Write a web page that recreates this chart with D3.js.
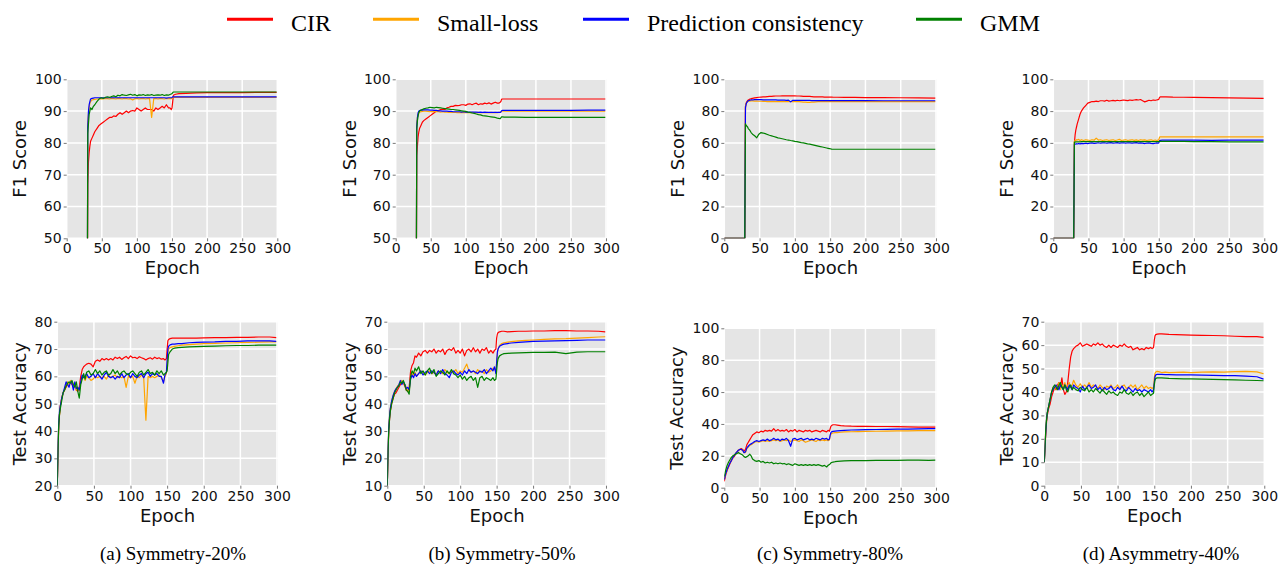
<!DOCTYPE html>
<html>
<head>
<meta charset="utf-8">
<script src="https://cdn.jsdelivr.net/npm/d3@7"></script>
<style>
  body { margin: 0; background: #fff; }
  svg { display: block; }
</style>
</head>
<body>
<div id="chart"></div>
<script>
// legend / methods
const methods = ["CIR", "Small-loss", "Prediction consistency", "GMM"];
const colors = ["#ff0000", "#ffa500", "#0000ff", "#008000"];
const captions = ["(a) Symmetry-20%", "(b) Symmetry-50%", "(c) Symmetry-80%", "(d) Asymmetry-40%"];

// epochs sampled for the F1 row and the accuracy row
const epochsF1 = [0,29,30,31,32,33,34,36,38,40,
  43,46,49,52,55,58,61,64,67,70,
  73,76,79,82,85,88,91,94,97,100,
  103,106,109,112,115,118,121,124,127,130,
  133,136,139,142,145,147,149,150,151,152,
  155,160,170,185,200,225,250,275,299];
const epochsAcc = [0,1,2,3,4,6,8,10,12,14,
  16,18,20,22,24,26,28,30,32,34,
  36,38,40,43,46,49,52,55,58,61,
  64,67,70,73,76,79,82,85,88,91,
  94,97,100,103,106,109,112,115,118,121,
  124,127,130,133,136,139,142,145,147,149,
  150,151,152,154,157,160,165,170,180,190,
  200,215,230,245,260,275,290,299];

const xTicks = [0, 50, 100, 150, 200, 250, 300];

// ---- (a) Symmetry-20% ----
const aF1Cir = [0,0,67,74,77,79,80.5,81.5,82.5,83.5,
  84.5,85.5,86,86.5,87,87.5,88,88,88.5,88.3,
  89,89.5,89,89.5,90,89.5,90,90.2,90,91,
  90.5,90,90.5,91,90.5,90.5,90.5,90,91,90.5,
  91,91.5,91,92,91,91,90.5,91,93,95,
  95.3,95.5,95.6,95.7,95.8,95.8,95.8,95.9,95.9];
const aF1Sl = [0,0,86,89,91,92.5,93,93.5,93.6,93.7,
  93.8,93.8,93.9,93.8,94,93.9,93.8,94,93.9,93.8,
  94,93.9,93.8,94,93.9,93.8,93.9,93.5,93.9,94,
  93.8,93.9,94,93.8,93.9,94,88,93.9,94,93.8,
  94,93.9,93.8,94,93.9,94,93.9,94,94.2,94.3,
  94.3,94.3,94.3,94.3,94.3,94.3,94.3,94.3,94.3];
const aF1Pc = [0,0,85,90,92,93,93.8,94,94.1,94.2,
  94.2,94.2,94.2,94.2,94.2,94.2,94.2,94.2,94.2,94.2,
  94.2,94.2,94.2,94.2,94.2,94.2,94.2,94.2,94.2,94.2,
  94.2,94.2,94.2,94.2,94.2,94.2,94.2,94.2,94.2,94.2,
  94.2,94.2,94.2,94.1,94.2,94.2,94.2,94.3,94.5,94.5,
  94.5,94.5,94.5,94.5,94.5,94.5,94.5,94.5,94.5];
const aF1Gmm = [0,0,83,86,89,90,91,90.5,91.5,92,
  93,93.8,94.2,94,94.3,94.5,94.3,94.6,94.8,94.5,
  95,94.8,95.2,95,94.9,95.1,95.3,95,95.2,94.8,
  95.1,95,95.2,94.9,95.1,95,95.2,94.9,95,95.1,
  95,95.2,94.9,95.1,95,95.2,95.4,95.5,95.8,96,
  96,96,96,96,96,96,96,96,96];

const aAccCir = [20,33,42,46,49,52,54,55,56,57,
  57.5,58,57,56.5,57.5,55,54.5,56,60,62.5,
  63.5,64,64.5,64.8,64.5,63.5,65.5,66,65.5,66.5,
  66,66.5,66,66.5,66,67,66.5,67,66.2,66.8,
  67.3,66.5,67.5,66.8,67,66.5,67.2,66.8,66.5,66,
  66.5,66.8,66.3,67,66.5,66.8,66.3,66.5,66,66.5,
  70,73,73.5,73.8,74,74,74,74,74,74,
  74.1,74.2,74.2,74.3,74.3,74.4,74.4,74.2];
const aAccSl = [20,35,43,46,49,52,54,55.5,57,58,
  57,58.5,58,56,57,55,56,55,58,59.5,
  60,58.5,60,59.5,58.5,59,60,59.5,60,59.5,
  60,59,60.5,59.5,60,60.5,59.5,60,59.5,60,
  56,60,59.5,60,57.5,60,59.5,60.5,59.5,44,
  60,59.5,60,59.5,60,60.5,59.5,58,60,61,
  64,68.5,70,70.5,70.8,71,71.2,71.4,71.6,71.8,
  72,72.1,72.2,72.3,72.4,72.5,72.6,72.6];
const aAccPc = [20,36,43,47,49,52,54,56,58,57,
  56,58,57.5,55,58,55.5,56,55,58,60.5,
  59.5,60,61,59.5,60,61,59.5,61,60,59,
  60.5,61.5,60,59.5,60,59,60,59.5,61,59.5,
  60.5,61,59.5,61,60,59.5,60.5,61,59.5,61,
  61.5,60,61,60.5,61,60,60,57.5,60.5,61.5,
  66,70,71,71.5,71.8,71.8,72,72,72.3,72.4,
  72.5,72.6,72.8,72.8,73,73,73,72.8];
const aAccGmm = [20,34,42,46,48,51,54,55,56.5,57.5,
  58,57.5,58.5,57,56,58,54.5,52,57,59,
  61,59,61.5,62,60.5,61,62.5,61,62,60.5,
  61.5,62,60.5,61,62.5,61,62,60.5,61.5,62,
  61,60.5,61.5,62,61,60,61.5,62,60.5,61.5,
  62.5,61,61.5,60.5,62,61,62,60.5,61,61.5,
  62,65,68,69,70,70.3,70.5,70.6,70.8,70.9,
  71,71.1,71.2,71.3,71.3,71.4,71.4,71.4];

// ---- (b) Symmetry-50% ----
const bF1Cir = [0,0,76,79,82,83.5,84.5,85.5,86.5,87,
  87.5,88,88.5,89,89.5,90,90.2,90.5,90.6,90.5,
  91,91.2,91.5,91.5,91.8,91.7,91.8,92,92,91.8,
  92.2,92.3,92,92.3,92.5,92,92.3,92.2,92.5,92.3,
  92.6,92.2,92.5,92.8,92.5,92.5,92.8,93,93.7,93.8,
  93.8,93.8,93.8,93.8,93.8,93.8,93.8,93.8,93.8];
const bF1Sl = [0,0,86,88,89,89.5,89.7,89.8,89.9,90,
  90,89.9,89.8,89.9,89.8,89.9,89.8,89.7,89.8,89.7,
  89.7,89.6,89.7,89.6,89.6,89.5,89.6,89.5,89.6,89.5,
  89.5,89.5,89.6,89.5,89.5,89.6,89.5,89.5,89.5,89.6,
  89.5,89.6,89.5,89.6,89.5,89.6,89.6,89.7,90,90,
  90,90,90,90,90,90,90,90,90];
const bF1Pc = [0,0,85,88,89.5,90,90.2,90.3,90.3,90.4,
  90.4,90.4,90.3,90.3,90.2,90.2,90.1,90.1,90,90,
  90,89.9,89.9,89.8,89.8,89.8,89.8,89.7,89.8,89.7,
  89.7,89.7,89.7,89.7,89.7,89.6,89.7,89.6,89.7,89.6,
  89.6,89.6,89.6,89.6,89.6,89.6,89.6,89.7,90.1,90.2,
  90.2,90.2,90.2,90.2,90.2,90.2,90.2,90.3,90.3];
const bF1Gmm = [0,0,84,87,88.5,89.5,90,90.3,90.5,90.7,
  90.9,91,91.2,91.1,91,91.2,91.1,91,90.9,90.8,
  90.7,90.6,90.5,90.5,90.4,90.3,90.2,90.1,90,89.9,
  89.7,89.6,89.4,89.3,89.1,88.9,88.8,88.6,88.5,88.4,
  88.3,88.2,88.1,88,87.8,87.7,87.6,87.9,88.2,88.2,
  88.1,88.1,88.1,88,88,88,88,88,88];

const bAccCir = [10,22,30,34,37,40,42,43.5,44,45,
  46,47,48,47.5,46.5,45,44.5,46,52,54,
  55,57.5,57,58.5,57.5,59,59.5,58.5,59.5,59,
  60,58.5,59.5,59,60,58,59.5,60,59.5,60.5,
  58.5,59.5,58.5,60,57.5,59.5,60,59,60.5,59,
  60,58.5,60,59.5,60.5,58.5,59.5,58.5,59.5,60,
  64,65.5,66,66.3,66.5,66.5,66.3,66.4,66.5,66.5,
  66.6,66.6,66.7,66.7,66.6,66.6,66.5,66.3];
const bAccSl = [10,23,31,35,38,41,43,44.5,45.5,46.5,
  47,48,48.5,47.5,47,46,45,44.5,49.5,51,
  50.5,51.5,50,51,52,51.5,50.5,51.5,52,51,
  51.5,50.5,52,51.5,51,52.5,51.5,51,52,51.5,
  52.5,51,52,51.5,53,54.5,52,51.5,52,51,
  52.5,51.5,52,51,52.5,51.5,52,53,52.5,52,
  55,58.5,60,61.3,62,62.3,62.5,62.7,63,63.2,
  63.3,63.5,63.7,63.8,64,64.2,64.4,64.5];
const bAccPc = [10,24,31,35,38,41,43,44.5,45.5,46,
  47,48.5,47,48,47,45.5,46,45,49,50.5,
  49.5,51,50,51,52,50.5,51.5,52,51,52,
  51.5,50.5,52,51,52.5,51,50.5,49.5,51.5,52,
  51,50.5,51.5,50.5,52,51,52.5,51.5,52,51.5,
  51,52,51.5,52.5,51,52,53,52,53.5,51,
  55,59,60,61,61.5,61.8,62,62.2,62.4,62.6,
  62.8,62.9,63,63.1,63.2,63.3,63.3,63.3];
const bAccGmm = [10,23,30,34,37,40,42,44,45,46,
  46.5,48,47.5,48.5,47,45,44.5,43.5,50,52,
  51,53,52,53.5,51,52,50.5,52,53,51,
  52.5,50,51,52,51.5,50.5,52,51,52.5,51,
  50.5,49.5,50.5,49,50,48.5,49.5,50,48.5,49.5,
  46,49.5,50,48.5,49.5,49,48.5,49.5,48.5,49,
  52,55,56.5,57.5,58,58.3,58.4,58.5,58.6,58.7,
  58.8,58.8,58.9,58.3,58.9,59,59,59];

// ---- (c) Symmetry-80% ----
const cF1Cir = [0,0,83,85,86,86.5,87,87.5,87.8,88,
  88.3,88.5,88.7,88.8,88.9,89,89.1,89.2,89.3,89.4,
  89.5,89.5,89.5,89.6,89.6,89.6,89.6,89.6,89.6,89.6,
  89.5,89.5,89.4,89.3,89.3,89.2,89.2,89.1,89,89,
  89,88.9,88.9,88.8,88.8,88.8,88.8,88.8,88.8,88.8,
  88.7,88.7,88.6,88.6,88.5,88.5,88.4,88.3,88.2];
const cF1Sl = [0,0,83,85,85.5,86,86.2,86.3,86.4,86.4,
  86.3,86.3,86.2,86.2,86.1,86.1,86,86,86,86,
  86,86,86,86,86,86,86,86,86,86,
  86,85.9,85.8,85.7,85.6,85.5,85.5,85.6,85.7,85.8,
  85.9,86,86,86,86,86,86,86,86,86,
  86,86,86,86,86,86,86,86,86];
const cF1Pc = [0,0,82,84.5,85.5,86,86.5,86.8,87,87,
  87.2,87.2,87.2,87.2,87.1,87.1,87.1,87,87,87,
  87,86.9,86.9,86.9,86.9,86.8,86.9,85.8,86.8,86.8,
  86.8,86.7,86.7,86.7,86.7,86.7,86.7,86.6,86.6,86.6,
  86.6,86.6,86.6,86.6,86.6,86.6,86.6,86.6,86.6,86.6,
  86.6,86.6,86.6,86.6,86.6,86.5,86.5,86.5,86.5];
const cF1Gmm = [0,0,72,71,70.5,70,69,68,66.5,65.5,
  64.5,63.2,65.5,66.5,66.2,65.8,65.3,64.8,64.4,64,
  63.6,63.2,62.9,62.6,62.3,62,61.8,61.5,61.3,61,
  60.8,60.5,60.2,60,59.7,59.4,59.2,58.9,58.6,58.3,
  58,57.7,57.4,57.1,56.8,56.6,56.4,56.3,56.2,56.1,
  56,56,56,56,56,56,56,56,56];

const cAccCir = [4,6,8,9.5,11,13,15,17,18.5,19.5,
  21,22.5,23.5,24,24.5,24,23,24,27,28.5,
  30,31.5,33,34,35,34.5,35.5,35,36,35.5,
  36,35.5,37,35.5,36.5,35.5,36,35.5,36.5,35,
  36,35.5,36.5,35,36,35.5,35,36,35.5,36,
  35,35.5,36,35.5,35,36,35.5,35,36,35.5,
  37,38.5,39,39.5,39.5,39.3,39,38.8,38.6,38.5,
  38.5,38.4,38.4,38.3,38.2,38,38,38];
const cAccSl = [5,7,9,10,11.5,13.5,15.5,17,19,20,
  21.5,22.5,23.5,24,24,23.5,22,22,24.5,25.5,
  26.5,27,27.5,28.5,29,28.5,29,29.5,29,29.5,
  29,29.5,30,29.5,30,29,29.5,30,29.5,30,
  29,29.5,30,29.5,29,30,29.5,28.5,29,29.5,
  30,29.5,29,30,29.5,30,29.5,30,29.5,30,
  32,33.5,34,34.3,34.5,34.6,34.8,35,35.1,35.2,
  35.3,35.4,35.5,35.6,35.7,35.8,35.8,35.8];
const cAccPc = [5,7,9,10,11.5,13.5,15.5,17,19,20,
  21.5,22.5,23.5,24,24,23.5,22,22.5,25,26,
  27,27.5,28,29,29.5,29,29.5,30,29.5,30.5,
  29.5,30,31,30,30.5,29.5,30.5,30,31,29.5,
  26,30.5,31,30,30.5,31,30,30.5,31,30,
  30.5,30,31,30.5,30,31,30.5,31,30,30.5,
  33,34.5,35,35.3,35.5,35.6,35.8,36,36.2,36.3,
  36.4,36.5,36.6,36.7,36.8,36.9,37,37];
const cAccGmm = [7,9,11,12.5,14,16,17.5,19,20,20.5,
  21,21.5,22,21.5,21,20.5,19.5,19,19.5,20,
  21,20,18,17,16.5,17,16,16.5,15.5,16,
  15.5,16,15,15.5,15,15.5,15,15.2,14.5,15,
  14.5,14,15,14.5,14,14.5,14,14.5,14,14.5,
  14,14.5,14,14.5,14,13.5,14,13,14,14.5,
  15,15.5,15.8,16,16.3,16.5,16.7,16.8,17,17,
  17,17.2,17.2,17.2,17.3,17.3,17.2,17.3];

// ---- (d) Asymmetry-40% ----
const dF1Cir = [0,0,60,65,68,70,72,75,78,80,
  82,83.5,85,85.5,86,86,86.3,86,86.5,86.5,
  86.3,86.8,86.3,86.5,86.7,86.4,86.8,86.5,86.7,87,
  86.8,86.6,87,86.8,87,87.2,87,87.3,86.5,85.8,
  86.3,86.8,86.5,87,86.8,87,87.2,87.5,88.5,89,
  89,89,88.8,88.7,88.6,88.5,88.3,88.1,88];
const dF1Sl = [0,0,61,61.5,61.5,62,61.8,62.2,61.5,62,
  61.5,62,61.8,61.5,62,61.7,63,61.8,62,61.5,
  61.8,62,61.5,61.8,62,61.5,61.8,62.2,61.5,61.8,
  62,61.5,61.8,62,61.6,61.9,61.5,62,61.7,61.9,
  61.5,61.8,62,61.5,61.8,61.5,61.7,62,63.5,63.8,
  63.8,63.8,63.8,63.8,63.8,63.8,63.8,63.8,63.8];
const dF1Pc = [0,0,59,59.2,59.3,59.5,59.3,59.6,59.4,59.7,
  59.5,59.8,59.6,59.8,60,59.7,59.9,60.1,59.8,60,
  60.1,59.8,60,60.2,59.9,60,60.2,59.9,60,60.1,
  59.9,60.1,60,59.8,60,60.2,59.9,60,59.8,59.6,
  59.9,60,59.7,59.5,59.8,60,59.9,60,61.3,61.6,
  61.7,61.8,61.8,61.7,61.7,61.6,61.7,61.7,61.8];
const dF1Gmm = [0,0,60.5,60.5,60.6,60.6,60.7,60.6,60.7,60.8,
  60.8,60.8,60.8,60.8,60.8,60.8,60.8,60.8,60.8,60.8,
  60.8,60.8,60.8,60.8,60.8,60.8,60.8,60.8,60.8,60.8,
  60.8,60.8,60.8,60.8,60.8,60.8,60.8,60.8,60.8,60.8,
  60.8,60.8,60.8,60.8,60.8,60.8,60.8,60.8,61,61,
  61,61,60.9,60.9,60.8,60.8,60.7,60.7,60.7];

const dAccCir = [10,16,22,27,30,33,35,38,40,42,
  41,43,44,42,46,41,39,40,44,50,
  55,57.5,58.5,59.5,60,61,59.5,60,60.5,60,
  59.5,60.5,60,61,60,60.5,59.5,59,60,59,
  60,59.5,59,60,59.5,60.5,59.5,59,59.5,58,
  58.5,59,58,58.5,58,59,58.5,59,58.5,59,
  62,64,64.5,64.7,64.8,64.8,64.7,64.6,64.5,64.4,
  64.3,64.2,64.1,64,63.8,63.6,63.6,63.3];
const dAccSl = [10,18,24,28,31,34,37,40,42,41,
  43,42,44,41,43,42,44,42,43,44,
  42,43,45,43,42,43.5,42,43,42,44,
  42,43,42.5,41.5,43,42,41,42.5,42,43,
  41.5,42,43,41.5,42.5,43,41.5,42,43,42,
  43,41,42,43,41.5,42.5,41.5,42,41.5,42,
  46,48,48.5,48.8,48.6,48.3,48.5,48.3,48.4,48.5,
  48.3,48.5,48.6,48.5,48.7,48.8,48.6,47.8];
const dAccPc = [10,17,23,28,31,34,37,40,41,42,
  43,42,41,43,42,41,43,42,41,43,
  42,41,43,42,41.5,40,42.5,41,42,43,
  41.5,42,43,41,42,40.5,42,41,41.5,42.5,
  41,40.5,42,41,42.5,41,40.5,42,41,40,
  41.5,40.5,41,40,41,40.5,40,41,40,41,
  44,46.5,47.3,47.5,47.5,47.5,47.4,47.4,47.3,47.3,
  47.3,47.2,47.1,47,47,46.8,46.5,45.5];
const dAccGmm = [10,17,24,28,31,34,37,40,42,43,
  42,41,43,44,42,41,43,41,40,42,
  43,41,42,41,40.5,42,41,40.5,42,40,
  41,40,41.5,40.5,39.5,41,40,39,40.5,39.5,
  40,39,38.5,40,39.5,41,39.5,39,40,38.5,
  39.5,40,38.5,39.5,38,39,40,38.5,39,39.5,
  43,45,45.8,46,46,46,45.9,45.8,45.7,45.6,
  45.6,45.5,45.4,45.3,45.2,45,44.9,44.8];

// y tick labels per panel
const yTicksF1High = [50, 60, 70, 80, 90, 100];
const yTicksF1Full = [0, 20, 40, 60, 80, 100];
const yTicksAccA = [20, 30, 40, 50, 60, 70, 80];
const yTicksAccB = [10, 20, 30, 40, 50, 60, 70];
const yTicksAccC = [0, 20, 40, 60, 80, 100];
const yTicksAccD = [0, 10, 20, 30, 40, 50, 60, 70];

const panels = [
  {label: "F1 Score", epochs: epochsF1, series: [aF1Cir, aF1Sl, aF1Pc, aF1Gmm], ticks: yTicksF1High,
   box: {left: 66.7, right: 278, top: 79.3, bottom: 238.3, labelX: 20}},
  {label: "F1 Score", epochs: epochsF1, series: [bF1Cir, bF1Sl, bF1Pc, bF1Gmm], ticks: yTicksF1High,
   box: {left: 395.7, right: 606.7, top: 79.3, bottom: 238.3, labelX: 350}},
  {label: "F1 Score", epochs: epochsF1, series: [cF1Cir, cF1Sl, cF1Pc, cF1Gmm], ticks: yTicksF1Full,
   box: {left: 724.3, right: 936.7, top: 79.3, bottom: 238.3, labelX: 678}},
  {label: "F1 Score", epochs: epochsF1, series: [dF1Cir, dF1Sl, dF1Pc, dF1Gmm], ticks: yTicksF1Full,
   box: {left: 1053.3, right: 1265, top: 79.3, bottom: 238.3, labelX: 1007}},
  {label: "Test Accuracy", epochs: epochsAcc, series: [aAccCir, aAccSl, aAccPc, aAccGmm], ticks: yTicksAccA,
   box: {left: 57.3, right: 277.7, top: 321.7, bottom: 485.7, labelX: 20}},
  {label: "Test Accuracy", epochs: epochsAcc, series: [bAccCir, bAccSl, bAccPc, bAccGmm], ticks: yTicksAccB,
   box: {left: 387.3, right: 606.7, top: 321.7, bottom: 485.7, labelX: 350}},
  {label: "Test Accuracy", epochs: epochsAcc, series: [cAccCir, cAccSl, cAccPc, cAccGmm], ticks: yTicksAccC,
   box: {left: 724.3, right: 936.7, top: 328.3, bottom: 487.7, labelX: 677}},
  {label: "Test Accuracy", epochs: epochsAcc, series: [dAccCir, dAccSl, dAccPc, dAccGmm], ticks: yTicksAccD,
   box: {left: 1044.3, right: 1265, top: 321.7, bottom: 485.7, labelX: 1007}}
];

const W = 1281, H = 565;
const svg = d3.select("#chart").append("svg")
  .attr("width", W).attr("height", H)
  .attr("viewBox", `0 0 ${W} ${H}`);
svg.append("rect").attr("width", W).attr("height", H).attr("fill", "#fff");

const sans = "'DejaVu Sans', sans-serif";
const serif = "'Liberation Serif', 'Times New Roman', serif";

panels.forEach((p, i) => {
  const b = p.box;
  const x = d3.scaleLinear().domain([0, 301]).range([b.left, b.right]);
  const y = d3.scaleLinear().domain(d3.extent(p.ticks)).range([b.bottom, b.top]);
  const g = svg.append("g");

  g.append("rect")
    .attr("x", b.left).attr("y", b.top)
    .attr("width", b.right - b.left).attr("height", b.bottom - b.top)
    .attr("fill", "#e5e5e5");

  // white grid
  g.selectAll(".gx").data(xTicks).join("line")
    .attr("x1", d => x(d)).attr("x2", d => x(d))
    .attr("y1", b.top).attr("y2", b.bottom)
    .attr("stroke", "#fff").attr("stroke-width", 1.5);
  g.selectAll(".gy").data(p.ticks).join("line")
    .attr("x1", b.left).attr("x2", b.right)
    .attr("y1", d => y(d)).attr("y2", d => y(d))
    .attr("stroke", "#fff").attr("stroke-width", 1.5);

  // clip lines to the axes area
  const clipId = "clip" + i;
  svg.append("clipPath").attr("id", clipId).append("rect")
    .attr("x", b.left).attr("y", b.top)
    .attr("width", b.right - b.left).attr("height", b.bottom - b.top);

  const line = d3.line()
    .x((d, k) => x(p.epochs[k]))
    .y(d => y(d));

  const lines = g.append("g").attr("clip-path", `url(#${clipId})`);
  p.series.forEach((s, k) => {
    lines.append("path")
      .datum(s)
      .attr("fill", "none")
      .attr("stroke", colors[k])
      .attr("stroke-width", 1.2)
      .attr("stroke-linejoin", "round")
      .attr("d", line);
  });

  // axes
  const xAxis = g.append("g")
    .attr("transform", `translate(0,${b.bottom})`)
    .call(d3.axisBottom(x).tickValues(xTicks).tickSize(3).tickPadding(2));
  const yAxis = g.append("g")
    .attr("transform", `translate(${b.left},0)`)
    .call(d3.axisLeft(y).tickValues(p.ticks).tickSize(3).tickPadding(2));
  [xAxis, yAxis].forEach(a => {
    a.select(".domain").remove();
    a.selectAll(".tick line").attr("stroke", "#555").attr("stroke-width", 0.8);
    a.selectAll(".tick text")
      .attr("fill", "#111")
      .style("font-family", sans)
      .style("font-size", "14px");
  });

  g.append("text")
    .attr("x", (b.left + b.right) / 2)
    .attr("y", b.bottom + 36)
    .attr("text-anchor", "middle")
    .style("font-family", sans).style("font-size", "18px")
    .attr("fill", "#111")
    .text("Epoch");

  g.append("text")
    .attr("transform", `translate(${b.labelX},${(b.top + b.bottom) / 2}) rotate(-90)`)
    .attr("dy", "0.35em")
    .attr("text-anchor", "middle")
    .style("font-family", sans).style("font-size", "18px")
    .attr("fill", "#111")
    .text(p.label);
});

// captions
const captionX = [173, 502, 830, 1161];
captions.forEach((c, i) => {
  svg.append("text")
    .attr("x", captionX[i]).attr("y", 560)
    .attr("text-anchor", "middle")
    .style("font-family", serif).style("font-size", "19px")
    .attr("fill", "#000")
    .text(c);
});

// legend
const legendLineX = [227, 373, 583, 916];
const legend = svg.append("g");
methods.forEach((m, i) => {
  legend.append("line")
    .attr("x1", legendLineX[i]).attr("x2", legendLineX[i] + 46)
    .attr("y1", 19.3).attr("y2", 19.3)
    .attr("stroke", colors[i]).attr("stroke-width", 3);
  legend.append("text")
    .attr("x", legendLineX[i] + 64).attr("y", 31)
    .style("font-family", serif).style("font-size", "24px")
    .attr("fill", "#000")
    .text(m);
});
</script>
</body>
</html>
